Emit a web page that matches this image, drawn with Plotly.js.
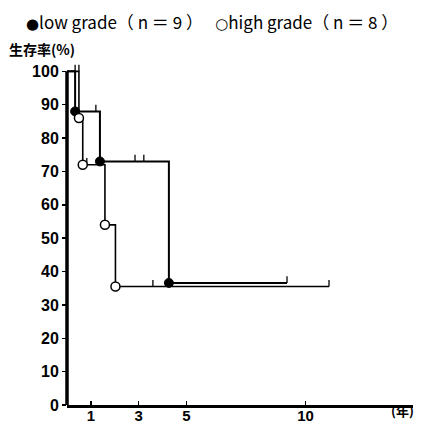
<!DOCTYPE html>
<html>
<head>
<meta charset="utf-8">
<script src="https://cdn.plot.ly/plotly-3.0.1.min.js"></script>
<style>html,body{margin:0;padding:0;background:#fff;}#chart{width:421px;height:424px;}</style>
</head>
<body>
<div id="chart"></div>
<script>
// ---- data ----
const lowTimes  = [0, 0.34, 1.38, 4.27, 9.22];
const lowSurv   = [100, 88, 73, 36.6, 36.6];
const highTimes = [0, 0.5, 0.66, 1.59, 2.03, 10.98];
const highSurv  = [100, 86, 72, 54, 35.5, 35.5];
const lowCensorT  = [0.34, 1.21, 2.85, 3.22, 9.22];
const lowCensorS  = [100, 88, 73, 73, 36.6];
const highCensorT = [0.5, 0.83, 3.6, 10.98];
const highCensorS = [100, 72, 35.5, 35.5];
const xTickVals = [1, 3, 5, 10];
const yTickVals = [0, 10, 20, 30, 40, 50, 60, 70, 80, 90, 100];
const lowLabel  = "low grade（ n ＝ 9 ）";
const highLabel = "high grade（ n ＝ 8 ）";
const yTitle = "生存率(%)";
const xUnit = "(年)";
const censorHeight = 2;

function censorSegs(ts, ss) {
  const x = [], y = [];
  ts.forEach((t, i) => { x.push(t, t, null); y.push(ss[i], ss[i] + censorHeight, null); });
  return {x, y};
}
const lc = censorSegs(lowCensorT, lowCensorS);
const hc = censorSegs(highCensorT, highCensorS);

const traces = [
  {x: highTimes, y: highSurv, mode: 'lines', line: {shape: 'hv', color: '#000', width: 1.6}, hoverinfo: 'skip'},
  {x: lowTimes, y: lowSurv, mode: 'lines', line: {shape: 'hv', color: '#000', width: 2}, hoverinfo: 'skip'},
  {x: hc.x, y: hc.y, mode: 'lines', line: {color: '#000', width: 1.3}, hoverinfo: 'skip'},
  {x: lc.x, y: lc.y, mode: 'lines', line: {color: '#000', width: 1.3}, hoverinfo: 'skip'},
  {x: lowTimes.slice(1, -1), y: lowSurv.slice(1, -1), mode: 'markers', cliponaxis: false,
   marker: {symbol: 'circle', size: 9, color: '#000', line: {color: '#000', width: 1}}},
  {x: highTimes.slice(1, -1), y: highSurv.slice(1, -1), mode: 'markers', cliponaxis: false,
   marker: {symbol: 'circle', size: 9, color: '#fff', line: {color: '#000', width: 1.5}}}
];

const tickFont = {family: '"Liberation Sans", Arial, sans-serif', size: 16, color: '#000', weight: 'bold'};
const xTickFont = {family: '"Liberation Sans", Arial, sans-serif', size: 15, color: '#000', weight: 'bold'};
const dot = (c) => '<span style="font-family:DejaVu Sans;font-size:15px">' + c + '</span>';

const layout = {
  width: 421, height: 424,
  margin: {l: 67, r: 8, t: 58, b: 19, pad: 0},
  paper_bgcolor: '#fff', plot_bgcolor: '#fff',
  showlegend: false,
  xaxis: {
    range: [0, 14.5], tickvals: xTickVals, ticktext: xTickVals.map(String),
    showgrid: false, zeroline: false, showline: true, linewidth: 3, linecolor: '#000',
    ticks: 'inside', ticklen: 4, tickwidth: 1.5, tickcolor: '#000',
    ticklabelstandoff: -5,
    tickfont: xTickFont
  },
  yaxis: {
    range: [0, 104], tickvals: yTickVals, ticktext: yTickVals.map(String),
    showgrid: false, zeroline: false, showline: false,
    ticks: 'outside', ticklen: 4, tickwidth: 1.5, tickcolor: '#000',
    tickfont: tickFont
  },
  shapes: [
    {type: 'line', xref: 'paper', yref: 'y', x0: 0, x1: 0, y0: 0, y1: 100, line: {color: '#000', width: 3.5}}
  ],
  annotations: [
    {text: dot('●') + lowLabel + '　 ' + dot('○') + highLabel, xref: 'paper', yref: 'paper', x: -0.125, y: 1.105, xanchor: 'left', yanchor: 'middle',
     showarrow: false, font: {family: '"Noto Sans CJK JP", sans-serif', size: 17, color: '#000'}},
    {text: yTitle, xref: 'paper', yref: 'paper', x: -0.172, y: 1.025, xanchor: 'left', yanchor: 'middle',
     showarrow: false, font: {family: '"Noto Sans CJK JP", sans-serif', size: 14, color: '#000', weight: 'bold'}},
    {text: xUnit, xref: 'paper', yref: 'paper', x: 1.01, y: -0.05, xanchor: 'right', yanchor: 'bottom',
     showarrow: false, font: {family: '"Noto Sans CJK JP", sans-serif', size: 13, color: '#000', weight: 'bold'}}
  ]
};

Plotly.newPlot('chart', traces, layout, {staticPlot: true});
</script>
</body>
</html>
